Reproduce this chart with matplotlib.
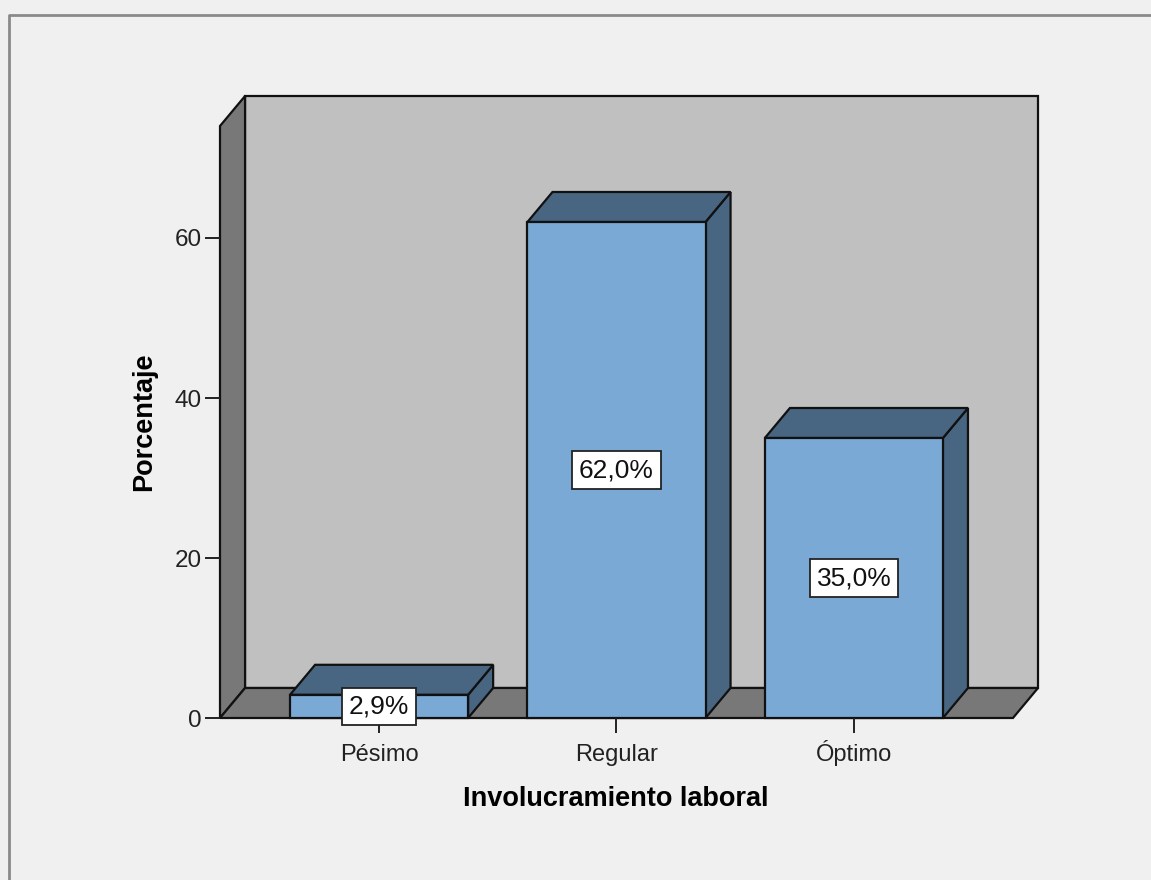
import matplotlib.pyplot as plt
from matplotlib.patches import Polygon, Rectangle
from matplotlib.lines import Line2D

plt.rcParams['font.family'] = ['Liberation Sans', 'DejaVu Sans']

# data
categories = ['Pésimo', 'Regular', 'Óptimo']
percentages = [2.9, 62.0, 35.0]
value_labels = ['2,9%', '62,0%', '35,0%']
yticks = [0, 20, 40, 60]

# look
front_col = '#7BA9D6'
dark_col = '#486682'
wall_col = '#C0C0C0'
side_col = '#787878'
bg_col = '#F0F0F0'
bar_w = 0.75
dx, dy = 0.1055, 3.75      # depth offset in data units
x_lo, x_hi = -0.67, 2.67   # floor front edge
wall_h = 74

fig = plt.figure(figsize=(11.51, 8.80), dpi=100, facecolor=bg_col)
ax = fig.add_axes([220 / 1151, 1 - 718 / 880, 818 / 1151, 624 / 880])
ax.set_facecolor('none')
ax.set_xlim(x_lo, x_hi + dx)
ax.set_ylim(0, 78)
for s in ax.spines.values():
    s.set_visible(False)

ec = dict(edgecolor='#111111', linewidth=1.6, joinstyle='miter', clip_on=False)

# back wall, left wall, floor
ax.add_patch(Rectangle((x_lo + dx, dy), x_hi - x_lo, wall_h, facecolor=wall_col, **ec))
ax.add_patch(Polygon([(x_lo, 0), (x_lo, wall_h), (x_lo + dx, wall_h + dy), (x_lo + dx, dy)],
                     facecolor=side_col, **ec))
ax.add_patch(Polygon([(x_lo, 0), (x_hi, 0), (x_hi + dx, dy), (x_lo + dx, dy)],
                     facecolor=side_col, **ec))

# bars
for i, (cat, v, lab) in enumerate(zip(categories, percentages, value_labels)):
    x0 = i - bar_w / 2
    x1 = i + bar_w / 2
    ax.add_patch(Polygon([(x1, 0), (x1, v), (x1 + dx, v + dy), (x1 + dx, dy)],
                         facecolor=dark_col, **ec))
    ax.add_patch(Polygon([(x0, v), (x1, v), (x1 + dx, v + dy), (x0 + dx, v + dy)],
                         facecolor=dark_col, **ec))
    ax.add_patch(Rectangle((x0, 0), bar_w, v, facecolor=front_col, **ec))
    ax.text(i, v / 2, lab, ha='center', va='center', fontsize=19, color='#111111', zorder=5,
            bbox=dict(boxstyle='square,pad=0.26', facecolor='white', edgecolor='#222222', linewidth=1.3))

ax.set_xticks(range(len(categories)))
ax.set_xticklabels(categories, fontsize=17, color='#222222')
for t in ax.get_xticklabels():
    t.set_va('baseline')
ax.set_yticks(yticks)
ax.set_yticklabels([str(t) for t in yticks], fontsize=17.5, color='#222222')
ax.tick_params(axis='both', direction='out', length=11, width=1.4, color='#222222', pad=2)
ax.tick_params(axis='x', pad=20)

ax.set_xlabel('Involucramiento laboral', fontsize=19.5, fontweight='bold')
ax.xaxis.set_label_coords((616 - 220) / 818, -(786 - 718) / 624)
ax.set_ylabel('Porcentaje', fontsize=19.5, fontweight='bold')
ax.yaxis.set_label_coords(-(220 - 157) / 818, (718 - 422) / 624)

# outer frame (top and left only visible)
fig.add_artist(Line2D([9 / 1151, 9 / 1151, 1], [0, 1 - 15 / 880, 1 - 15 / 880],
                      transform=fig.transFigure, color='#8A8A8A', linewidth=2))

fig.savefig('out.png', dpi=100, facecolor=bg_col)
